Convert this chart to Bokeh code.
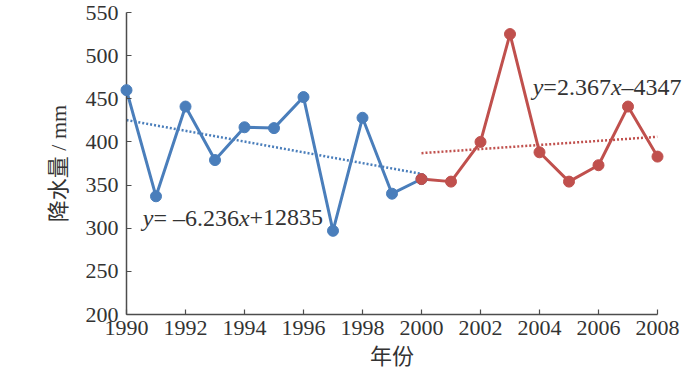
from bokeh.plotting import figure
from bokeh.models import ColumnDataSource, FixedTicker
from bokeh.core.properties import value
from bokeh.embed import file_html
from bokeh.resources import INLINE

# ---- data ----
years_a = [1990, 1991, 1992, 1993, 1994, 1995, 1996, 1997, 1998, 1999, 2000]
rain_a = [460, 337, 441, 379, 417, 416, 452, 297, 428, 340, 357]
years_b = [2000, 2001, 2002, 2003, 2004, 2005, 2006, 2007, 2008]
rain_b = [357, 354, 400, 525, 388, 354, 373, 441, 383]
trend_a = (-6.236, 12835)   # slope, intercept
trend_b = (2.367, -4347)
x_ticks = [1990, 1992, 1994, 1996, 1998, 2000, 2002, 2004, 2006, 2008]
y_ticks = [200, 250, 300, 350, 400, 450, 500, 550]
x_label = "年份"
y_label = "降水量 / mm"

BLUE = "#4a7ebb"
RED = "#c0504d"
AXIS = "#4d4d4d"
FONT = "Liberation Serif"
FONT_MIX = "'Liberation Serif', 'Noto Sans CJK SC'"

p = figure(frame_width=531, frame_height=302,
           min_border_left=126, min_border_top=12, min_border_right=35,
           min_border_bottom=50,
           x_range=(1990, 2008), y_range=(200, 550),
           output_backend="svg", toolbar_location=None)
p.outline_line_color = None
p.xgrid.grid_line_color = None
p.ygrid.grid_line_color = None
p.background_fill_color = "white"
p.border_fill_color = "white"

for ax in (p.xaxis, p.yaxis):
    ax.axis_line_color = AXIS
    ax.axis_line_width = 1.5
    ax.major_tick_line_color = AXIS
    ax.major_tick_line_width = 1.2
    ax.major_tick_in = 5
    ax.major_tick_out = 0
    ax.minor_tick_line_color = None
    ax.major_label_text_font = FONT
    ax.major_label_text_font_size = "22px"
    ax.major_label_text_color = "#333333"
    ax.axis_label_text_font = FONT_MIX
    ax.axis_label_text_font_size = "22px"
    ax.axis_label_text_font_style = "normal"
    ax.axis_label_text_color = "#333333"

p.xaxis.ticker = FixedTicker(ticks=x_ticks)
p.yaxis.ticker = FixedTicker(ticks=y_ticks)
p.xaxis.axis_label = x_label
p.yaxis.axis_label = y_label
p.xaxis.major_label_standoff = 6
p.xaxis.axis_label_standoff = 6
p.yaxis.major_label_standoff = 8
p.yaxis.axis_label_standoff = 12

# trend lines
ta_x = [years_a[0], years_a[-1]]
ta_y = [trend_a[0] * x + trend_a[1] for x in ta_x]
tb_x = [years_b[0], years_b[-1]]
tb_y = [trend_b[0] * x + trend_b[1] for x in tb_x]
p.line(ta_x, ta_y, line_color=BLUE, line_width=2.5, line_dash="2 2")
p.line(tb_x, tb_y, line_color=RED, line_width=2.5, line_dash="2 2")

# series
p.line(years_a, rain_a, line_color=BLUE, line_width=3)
p.scatter(years_a, rain_a, size=11, fill_color=BLUE, line_color=BLUE, level="overlay")
p.line(years_b, rain_b, line_color=RED, line_width=3)
p.scatter(years_b, rain_b, size=11, fill_color=RED, line_color=RED, level="overlay")

# equation labels (mixed italic), built from pieces
W = {"y": 0.444, "x": 0.444, "=": 0.564, "+": 0.564, "–": 0.5, ".": 0.25, " ": 0.25}
FS = 24


def piece_offsets(parts):
    offs, off = [], 0.0
    for t, _ in parts:
        offs.append(off)
        off += sum(W.get(c, 0.5) for c in t) * FS
    return offs


def add_eq(parts, ax, ay):
    offs = piece_offsets(parts)
    src = ColumnDataSource(dict(
        x=[ax] * len(parts), y=[ay] * len(parts),
        text=[t for t, _ in parts], xo=offs,
        st=["italic" if it else "normal" for _, it in parts]))
    p.text(x="x", y="y", text="text", x_offset="xo", text_font_style="st",
           source=src, text_font=value(FONT), text_font_size=f"{FS}px",
           text_color="#333333", text_baseline="middle", text_align="left",
           level="overlay")


eq_a = [("y", True), ("= –6.236", False), ("x", True), ("+12835", False)]
eq_b = [("y", True), ("=2.367", False), ("x", True), ("–4347", False)]
add_eq(eq_a, 1990.55, 312)
add_eq(eq_b, 2003.77, 464)

open("out.html", "w").write(file_html(p, INLINE))
